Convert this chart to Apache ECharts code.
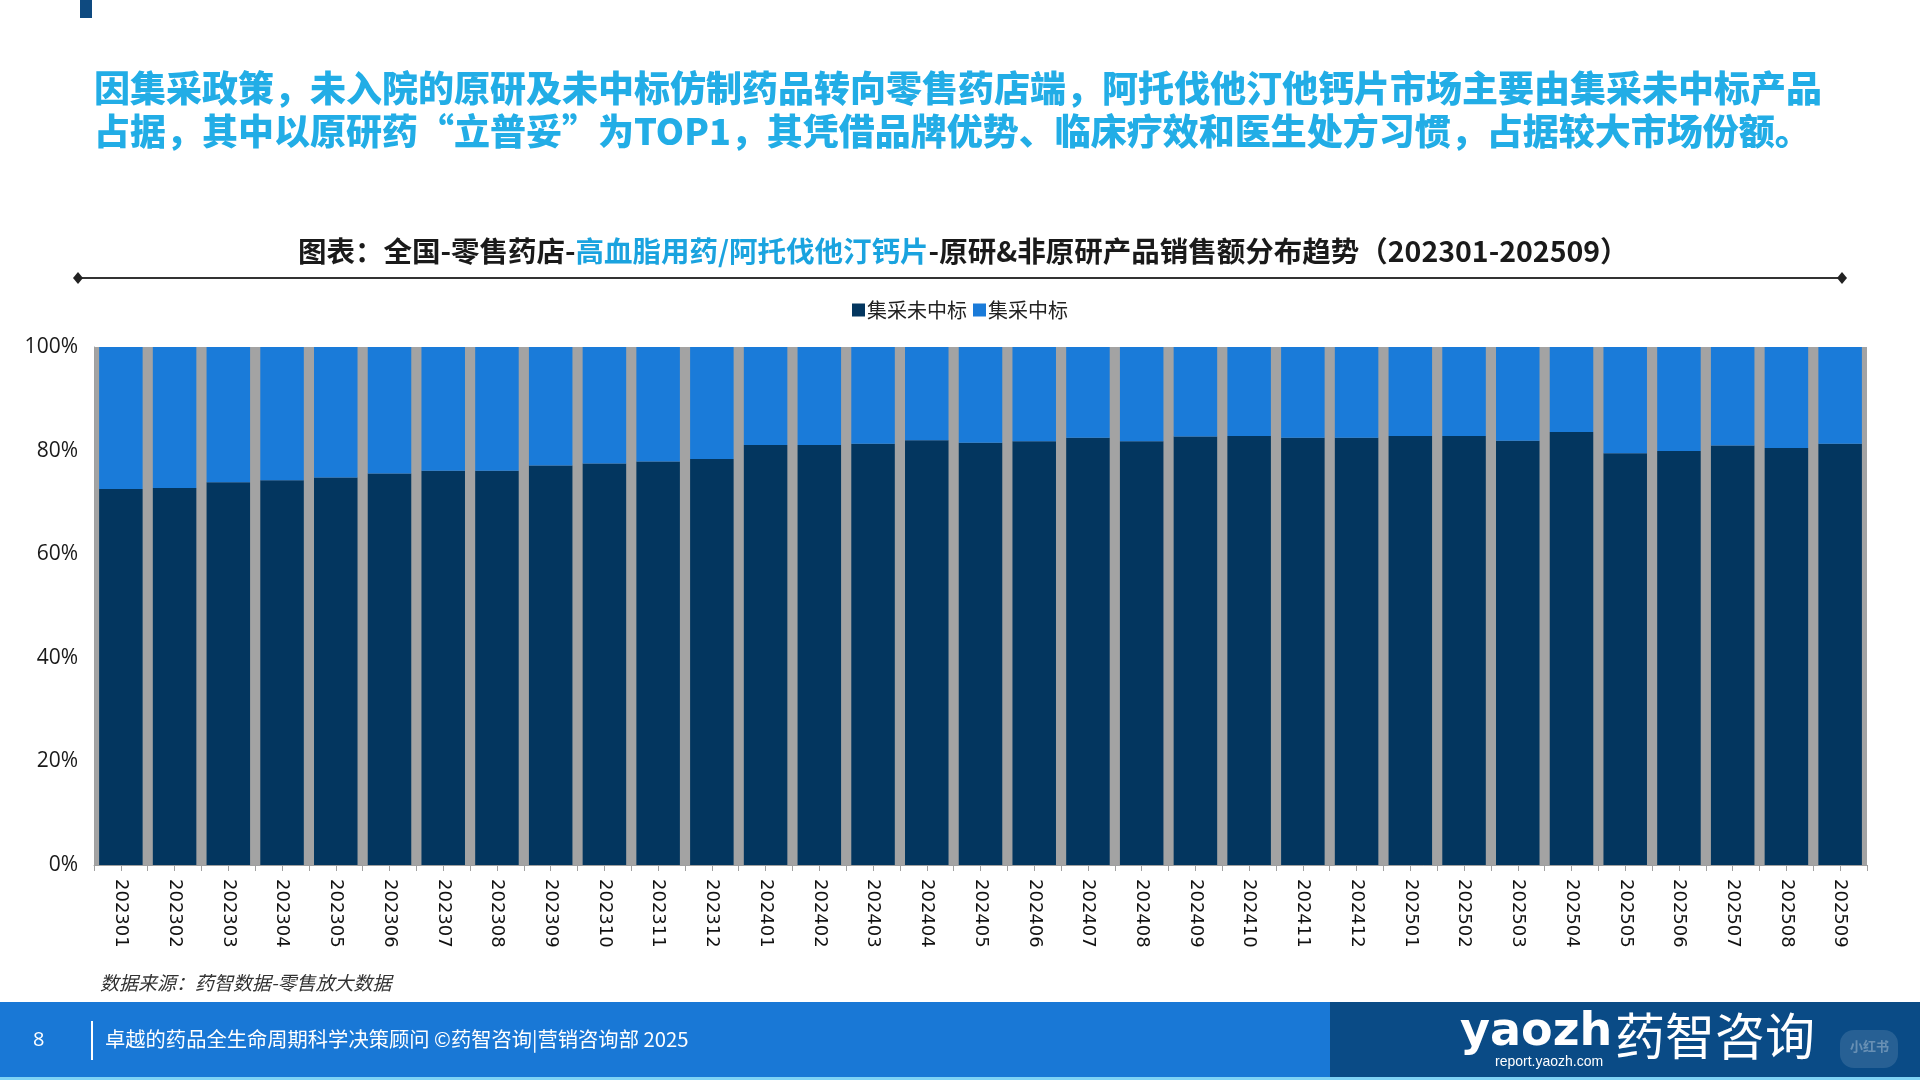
<!DOCTYPE html>
<html>
<head>
<meta charset="utf-8">
<title>阿托伐他汀钙片 原研&非原研销售额分布</title>
<script src="https://cdn.jsdelivr.net/npm/echarts@6/dist/echarts.min.js"></script>
<style>
  html, body { margin: 0; padding: 0; background: #fff; }
  #main { width: 1920px; height: 1080px; }
</style>
</head>
<body>
<div id="main"></div>
<script>
// 月份
var months = ['202301','202302','202303','202304','202305','202306','202307','202308','202309','202310','202311','202312',
    '202401','202402','202403','202404','202405','202406','202407','202408','202409','202410','202411','202412',
    '202501','202502','202503','202504','202505','202506','202507','202508','202509'];
// 集采未中标 占比(%)
var weiZhongBiao = [72.6, 72.8, 73.9, 74.3, 74.8, 75.6, 76.1, 76.1, 77.1, 77.5, 77.9, 78.4,
    81.1, 81.1, 81.3, 82.0, 81.5, 81.8, 82.5, 81.8, 82.7, 82.8, 82.5, 82.5,
    82.8, 82.8, 81.9, 83.6, 79.5, 79.9, 81.0, 80.5, 81.3];
// 集采中标 占比(%)
var zhongBiao = [27.4, 27.2, 26.1, 25.7, 25.2, 24.4, 23.9, 23.9, 22.9, 22.5, 22.1, 21.6,
    18.9, 18.9, 18.7, 18.0, 18.5, 18.2, 17.5, 18.2, 17.3, 17.2, 17.5, 17.5,
    17.2, 17.2, 18.1, 16.4, 20.5, 20.1, 19.0, 19.5, 18.7];
var yTicks = [0, 20, 40, 60, 80, 100];

// 半格刻度用
var halfTicks = [];
for (var i = 0; i < months.length * 2; i++) halfTicks.push('');

var cjk = '"Noto Sans CJK SC", "Noto Sans", sans-serif';
var myChart = echarts.init(document.getElementById('main'));

var option = {
    backgroundColor: '#fff',
    animation: false,
    title: {
        left: 293,
        top: 232,
        text: '{b|图表：全国-零售药店-}{c|高血脂用药/阿托伐他汀钙片}{b|-原研&非原研产品销售额分布趋势（202301-202509）}',
        textStyle: {
            rich: {
                b: { fontFamily: cjk, fontSize: 28.5, fontWeight: 'bold', color: '#1a1a1a' },
                c: { fontFamily: cjk, fontSize: 28.5, fontWeight: 'bold', color: '#1aa3df' }
            }
        }
    },
    legend: {
        top: 295,
        left: 'center',
        icon: 'rect',
        itemWidth: 13,
        itemHeight: 13,
        itemGap: 6,
        textStyle: { fontFamily: cjk, fontSize: 20, color: '#222', padding: [0, 0, 0, -3] },
        data: ['集采未中标', '集采中标']
    },
    grid: {
        left: 94,
        right: 53,
        top: 347,
        bottom: 215,
        show: true,
        backgroundColor: '#a3a3a3',
        borderWidth: 0
    },
    xAxis: [{
        type: 'category',
        data: months,
        axisLine: { lineStyle: { color: '#a0a0a0', width: 1 } },
        axisTick: { show: true, interval: 0, length: 6, lineStyle: { color: '#a0a0a0' } },
        axisLabel: {
            interval: 0,
            rotate: -90,
            margin: 14,
            fontFamily: '"DejaVu Sans", sans-serif',
            fontSize: 18,
            color: '#111'
        }
    }, {
        type: 'category',
        data: halfTicks,
        position: 'bottom',
        axisLine: { show: false },
        axisTick: { show: true, interval: 0, length: 6, lineStyle: { color: '#a0a0a0' } },
        axisLabel: { show: false }
    }],
    yAxis: {
        type: 'value',
        min: 0,
        max: 100,
        interval: 20,
        axisLine: { show: true, lineStyle: { color: '#a0a0a0' } },
        axisTick: { show: false },
        splitLine: { show: false },
        axisLabel: {
            margin: 16,
            fontFamily: '"Open Sans", "Noto Sans", sans-serif',
            fontSize: 21,
            color: '#1a1a1a',
            formatter: function (v) {
                return yTicks.indexOf(v) >= 0 ? v + '%' : '';
            }
        }
    },
    series: [{
        name: '集采未中标',
        type: 'bar',
        stack: 'total',
        barCategoryGap: '19%',
        itemStyle: { color: '#03365f' },
        data: weiZhongBiao
    }, {
        name: '集采中标',
        type: 'bar',
        stack: 'total',
        barCategoryGap: '19%',
        itemStyle: { color: '#1a7bd9' },
        data: zhongBiao
    }],
    graphic: [
        // 左上角小色块
        { type: 'rect', left: 80, top: 0, shape: { width: 12, height: 18 }, style: { fill: '#0e4a80' } },
        // 标题两行
        {
            type: 'text', left: 94, top: 70,
            style: {
                text: '因集采政策，未入院的原研及未中标仿制药品转向零售药店端，阿托伐他汀他钙片市场主要由集采未中标产品',
                fontFamily: cjk, fontSize: 36, fontWeight: 900, fill: '#22ade6'
            }
        },
        {
            type: 'text', left: 94, top: 113,
            style: {
                text: '占据，其中以原研药“立普妥”为TOP1，其凭借品牌优势、临床疗效和医生处方习惯，占据较大市场份额。',
                fontFamily: cjk, fontSize: 36, fontWeight: 900, fill: '#22ade6'
            }
        },
        // 图表标题下的分隔线
        { type: 'line', shape: { x1: 78, y1: 278, x2: 1842, y2: 278 }, style: { stroke: '#333', lineWidth: 2 } },
        { type: 'polygon', shape: { points: [[78, 272], [83, 278], [78, 284], [73, 278]] }, style: { fill: '#222' } },
        { type: 'polygon', shape: { points: [[1842, 272], [1847, 278], [1842, 284], [1837, 278]] }, style: { fill: '#222' } },
        // 数据来源
        {
            type: 'text', left: 100, top: 973,
            style: {
                text: '数据来源：药智数据-零售放大数据',
                fontFamily: cjk, fontSize: 19, fontStyle: 'italic', fill: '#333'
            }
        },
        // 页脚
        { type: 'rect', left: 0, top: 1002, shape: { width: 1330, height: 78 }, style: { fill: '#1978d6' } },
        { type: 'rect', left: 1330, top: 1002, shape: { width: 590, height: 78 }, style: { fill: '#0a4b86' } },
        { type: 'rect', left: 0, top: 1077, shape: { width: 1920, height: 3 }, style: { fill: '#7fd3f5' } },
        {
            type: 'text', left: 33, top: 1030,
            style: { text: '8', fontFamily: '"Open Sans", sans-serif', fontSize: 20, fill: '#fff' }
        },
        { type: 'rect', left: 91, top: 1021, shape: { width: 2, height: 39 }, style: { fill: '#fff' } },
        {
            type: 'text', left: 105, top: 1029,
            style: {
                text: '卓越的药品全生命周期科学决策顾问 ©药智咨询|营销咨询部 2025',
                fontFamily: cjk, fontSize: 20.3, fill: '#fff'
            }
        },
        // logo
        {
            type: 'text', left: 1460, top: 1010,
            style: { text: 'yaozh', fontFamily: '"DejaVu Sans", sans-serif', fontSize: 46, fontWeight: 'bold', fill: '#fff' }
        },
        {
            type: 'text', left: 1615, top: 1011,
            style: { text: '药智咨询', fontFamily: cjk, fontSize: 50, fill: '#fff' }
        },
        {
            type: 'text', left: 1495, top: 1055,
            style: { text: 'report.yaozh.com', fontFamily: '"Liberation Sans", sans-serif', fontSize: 14, fill: '#fff' }
        },
        { type: 'rect', left: 1840, top: 1030, shape: { width: 58, height: 38, r: 14 }, style: { fill: 'rgba(255,255,255,0.12)' } },
        {
            type: 'text', left: 1850, top: 1040,
            style: { text: '小红书', fontFamily: cjk, fontSize: 13, fontWeight: 'bold', fill: 'rgba(255,255,255,0.3)' }
        }
    ]
};

myChart.setOption(option);
</script>
</body>
</html>
